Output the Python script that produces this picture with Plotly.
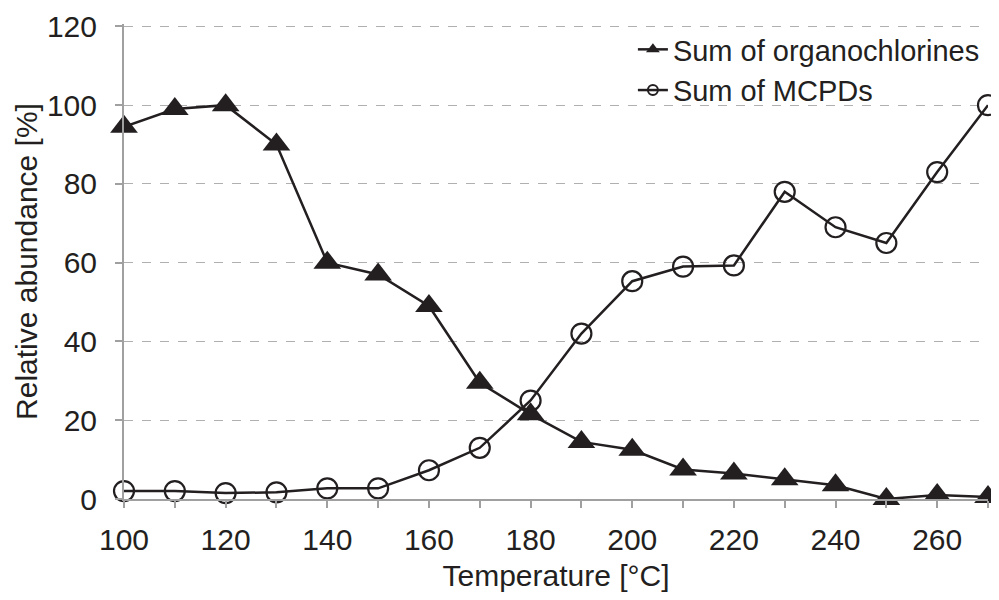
import plotly.graph_objects as go

temperature = [100, 110, 120, 130, 140, 150, 160, 170, 180, 190, 200, 210, 220, 230, 240, 250, 260, 270]
organochlorines = [94.5, 99, 100, 90, 60, 57, 49, 29.5, 21.5, 14.5, 12.5, 7.5, 6.5, 5, 3.5, 0, 1, 0.5]
mcpds = [2, 2, 1.5, 1.7, 2.7, 2.7, 7.3, 13, 25, 42, 55.3, 59, 59.3, 78, 69, 65, 83, 100]

x_ticks = [100, 120, 140, 160, 180, 200, 220, 240, 260]
y_ticks = [0, 20, 40, 60, 80, 100, 120]

FONT = "Liberation Sans, Arial, Helvetica, sans-serif"
INK = "#231f20"
FS = 30

fig = go.Figure()
fig.add_trace(go.Scatter(
    x=temperature, y=organochlorines, mode="lines+markers",
    name="Sum of organochlorines", showlegend=False,
    line=dict(color=INK, width=2.5),
    marker=dict(symbol="triangle-up", size=24, color=INK),
    cliponaxis=False,
))
fig.add_trace(go.Scatter(
    x=temperature, y=mcpds, mode="lines+markers",
    name="Sum of MCPDs", showlegend=False,
    line=dict(color=INK, width=2.5),
    marker=dict(symbol="circle-open", size=20, color=INK, line=dict(width=2.2, color=INK)),
    cliponaxis=False,
))
# legend entries with smaller symbols, as in the reference
fig.add_trace(go.Scatter(
    x=[None], y=[None], mode="lines+markers", name="Sum of organochlorines",
    line=dict(color=INK, width=2.5),
    marker=dict(symbol="triangle-up", size=12, color=INK),
))
fig.add_trace(go.Scatter(
    x=[None], y=[None], mode="lines+markers", name="Sum of MCPDs",
    line=dict(color=INK, width=2.5),
    marker=dict(symbol="circle-open", size=10, color=INK, line=dict(width=2, color=INK)),
))

fig.update_layout(
    width=999, height=600,
    margin=dict(l=116, r=19, t=16, b=109),
    plot_bgcolor="white", paper_bgcolor="white",
    font=dict(family=FONT, size=FS, color=INK),
    showlegend=True,
    legend=dict(
        x=0.589, y=1.0, xanchor="left", yanchor="top",
        bgcolor="rgba(255,255,255,0)", font=dict(size=29, color=INK),
        itemwidth=30, tracegroupgap=0,
    ),
    xaxis=dict(
        range=[100, 270], tickvals=x_ticks, ticktext=[str(v) for v in x_ticks],
        showgrid=False, zeroline=False, automargin=False,
        showline=True, linecolor="#a0a0a0", linewidth=2,
        ticks="outside", ticklen=7, tickcolor="#a0a0a0", tickwidth=1.5,
        ticklabelstandoff=6, ticklabeloverflow="allow",
        minor=dict(dtick=10, tick0=100, ticks="outside", ticklen=7, tickcolor="#a0a0a0", tickwidth=1.5, showgrid=False),
        title=dict(text="Temperature [°C]", font=dict(size=FS), standoff=10),
        tickfont=dict(size=FS),
    ),
    yaxis=dict(
        range=[0, 120.6], tickvals=y_ticks,
        showgrid=True, gridcolor="#b0b0b0", griddash="dash", gridwidth=1.2,
        zeroline=False, automargin=False,
        showline=True, linecolor="#a0a0a0", linewidth=2,
        ticks="outside", ticklen=7, tickcolor="#a0a0a0", tickwidth=1.5,
        ticklabelstandoff=12, ticklabeloverflow="allow",
        title=dict(text="Relative abundance [%]", font=dict(size=FS), standoff=0),
        tickfont=dict(size=FS),
    ),
)

fig.write_html("out.html")
